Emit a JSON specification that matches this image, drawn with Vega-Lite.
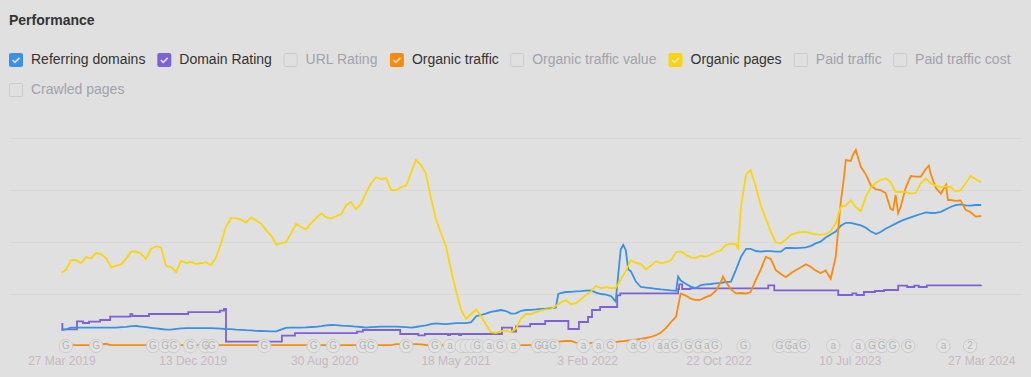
{
  "$schema": "https://vega.github.io/schema/vega-lite/v6.json",
  "width": 1013,
  "height": 208,
  "autosize": {"type": "none"},
  "padding": {"left": 9, "top": 138, "right": 9, "bottom": 31},
  "background": "#e0e0e0",
  "config": {
    "view": {"stroke": null},
    "font": "Arial",
    "legend": {
      "titleFontSize": 14,
      "titleFontWeight": "bold",
      "titleColor": "#333333",
      "titleFont": "Arial",
      "titlePadding": 25,
      "titleAnchor": "start",
      "labelFont": "Arial",
      "labelFontSize": 14,
      "labelOffset": 8,
      "labelLimit": 400,
      "symbolSize": 196,
      "symbolStrokeWidth": 0,
      "columnPadding": 11.3,
      "rowPadding": 16
    }
  },
  "datasets": {
    "main": [
      {"d":"2019-03-27","rd":8,"ot":0.4,"op":36.7},
      {"d":"2019-04-05","rd":8.3,"ot":0.4,"op":38},
      {"d":"2019-04-15","rd":9.2,"ot":0.4,"op":42.8},
      {"d":"2019-04-25","rd":9.2,"ot":0.4,"op":43},
      {"d":"2019-05-05","rd":9.2,"ot":0.4,"op":41.3},
      {"d":"2019-05-15","rd":9.2,"ot":0.4,"op":44.5},
      {"d":"2019-05-25","rd":9.2,"ot":0.4,"op":43.8},
      {"d":"2019-06-04","rd":9.2,"ot":0.5,"op":46.5},
      {"d":"2019-06-14","rd":9.2,"ot":1,"op":46},
      {"d":"2019-06-24","rd":9.2,"ot":1,"op":43.8},
      {"d":"2019-07-04","rd":9.2,"ot":0.4,"op":39.3},
      {"d":"2019-07-14","rd":9.2,"ot":0.4,"op":40.2},
      {"d":"2019-07-24","rd":9.4,"ot":0.4,"op":40.8},
      {"d":"2019-08-03","rd":9.6,"ot":0.4,"op":43.8},
      {"d":"2019-08-13","rd":9.9,"ot":0.4,"op":47.3},
      {"d":"2019-08-23","rd":10,"ot":0.4,"op":47.2},
      {"d":"2019-09-01","rd":9.7,"ot":0.4,"op":46.2},
      {"d":"2019-09-11","rd":9.4,"ot":0.4,"op":43.5},
      {"d":"2019-09-21","rd":9.1,"ot":0.4,"op":48.5},
      {"d":"2019-10-01","rd":8.8,"ot":0.4,"op":49.9},
      {"d":"2019-10-11","rd":8.5,"ot":0.4,"op":49.3},
      {"d":"2019-10-21","rd":8.2,"ot":0.4,"op":40},
      {"d":"2019-10-31","rd":8.2,"ot":0.4,"op":39.5},
      {"d":"2019-11-10","rd":8.6,"ot":0.4,"op":37},
      {"d":"2019-11-20","rd":8.8,"ot":0.4,"op":42.7},
      {"d":"2019-11-30","rd":8.9,"ot":0.4,"op":41.5},
      {"d":"2019-12-10","rd":8.9,"ot":0.4,"op":42},
      {"d":"2019-12-20","rd":8.9,"ot":0.4,"op":41},
      {"d":"2019-12-30","rd":8.9,"ot":0.4,"op":41.5},
      {"d":"2020-01-09","rd":8.9,"ot":0.4,"op":41.8},
      {"d":"2020-01-18","rd":8.9,"ot":0.4,"op":40.5},
      {"d":"2020-01-28","rd":8.8,"ot":0.4,"op":44.2},
      {"d":"2020-02-07","rd":8.7,"ot":0.4,"op":51.2},
      {"d":"2020-02-17","rd":8.5,"ot":0.4,"op":59.7},
      {"d":"2020-02-27","rd":8.4,"ot":0.4,"op":63.9},
      {"d":"2020-03-08","rd":8.2,"ot":0.4,"op":63.9},
      {"d":"2020-03-18","rd":8.1,"ot":0.4,"op":63.2},
      {"d":"2020-03-28","rd":7.9,"ot":0.4,"op":61.8},
      {"d":"2020-04-07","rd":7.8,"ot":0.4,"op":64.2},
      {"d":"2020-04-17","rd":7.6,"ot":0.4,"op":62.8},
      {"d":"2020-04-27","rd":7.5,"ot":0.4,"op":61.1},
      {"d":"2020-05-07","rd":7.4,"ot":0.4,"op":57.8},
      {"d":"2020-05-17","rd":7.3,"ot":0.4,"op":55.2},
      {"d":"2020-05-27","rd":7.3,"ot":0.4,"op":50.6},
      {"d":"2020-06-05","rd":8.2,"ot":0.4,"op":51.5},
      {"d":"2020-06-15","rd":9.1,"ot":0.4,"op":51.9},
      {"d":"2020-06-25","rd":9.2,"ot":0.4,"op":56.3},
      {"d":"2020-07-05","rd":9.2,"ot":0.4,"op":61},
      {"d":"2020-07-15","rd":9.2,"ot":0.4,"op":59.5},
      {"d":"2020-07-25","rd":9.3,"ot":0.4,"op":58.3},
      {"d":"2020-08-04","rd":9.5,"ot":0.4,"op":61.5},
      {"d":"2020-08-14","rd":9.6,"ot":0.4,"op":64},
      {"d":"2020-08-24","rd":9.9,"ot":0.4,"op":66.2},
      {"d":"2020-09-03","rd":10.3,"ot":0.4,"op":64.4},
      {"d":"2020-09-13","rd":10.5,"ot":0.4,"op":63.8},
      {"d":"2020-09-23","rd":10.4,"ot":0.4,"op":64.9},
      {"d":"2020-10-03","rd":10.2,"ot":0.4,"op":66},
      {"d":"2020-10-13","rd":10.1,"ot":0.4,"op":70.5},
      {"d":"2020-10-22","rd":9.9,"ot":0.4,"op":72},
      {"d":"2020-11-01","rd":9.7,"ot":0.4,"op":68.4},
      {"d":"2020-11-11","rd":9.5,"ot":0.4,"op":71},
      {"d":"2020-11-21","rd":9.2,"ot":0.4,"op":76.4},
      {"d":"2020-12-01","rd":9.4,"ot":0.4,"op":81.3},
      {"d":"2020-12-11","rd":9.6,"ot":0.4,"op":84.4},
      {"d":"2020-12-21","rd":9.7,"ot":0.4,"op":83.5},
      {"d":"2020-12-31","rd":9.7,"ot":0.4,"op":84},
      {"d":"2021-01-10","rd":9.7,"ot":0.4,"op":78},
      {"d":"2021-01-20","rd":9.7,"ot":0.9,"op":77.9},
      {"d":"2021-01-30","rd":9.6,"ot":0.9,"op":79.5},
      {"d":"2021-02-09","rd":9.4,"ot":0.9,"op":80.2},
      {"d":"2021-02-19","rd":9.2,"ot":0.9,"op":86.8},
      {"d":"2021-02-28","rd":9.5,"ot":0.9,"op":93},
      {"d":"2021-03-10","rd":9.9,"ot":0.8,"op":90.6},
      {"d":"2021-03-20","rd":10.3,"ot":0.5,"op":86.3},
      {"d":"2021-03-30","rd":10.9,"ot":0.4,"op":74},
      {"d":"2021-04-09","rd":11.3,"ot":0.4,"op":63.5},
      {"d":"2021-04-19","rd":11.1,"ot":0.4,"op":56.5},
      {"d":"2021-04-29","rd":10.9,"ot":0.4,"op":49.8},
      {"d":"2021-05-09","rd":11.2,"ot":0.4,"op":38},
      {"d":"2021-05-19","rd":11.4,"ot":0.4,"op":27.5},
      {"d":"2021-05-29","rd":11.4,"ot":0.4,"op":18},
      {"d":"2021-06-08","rd":11.4,"ot":0.4,"op":13.5},
      {"d":"2021-06-18","rd":11.9,"ot":0.4,"op":16},
      {"d":"2021-06-28","rd":14.9,"ot":0.4,"op":18.2},
      {"d":"2021-07-08","rd":15.5,"ot":0.4,"op":14.7},
      {"d":"2021-07-17","rd":16.2,"ot":0.4,"op":10.9},
      {"d":"2021-07-27","rd":17.1,"ot":0.4,"op":6.9},
      {"d":"2021-08-06","rd":17.5,"ot":0.4,"op":6.5},
      {"d":"2021-08-16","rd":18,"ot":0.4,"op":7.4},
      {"d":"2021-08-26","rd":17.5,"ot":0.4,"op":7.7},
      {"d":"2021-09-05","rd":16.2,"ot":0.4,"op":7},
      {"d":"2021-09-15","rd":16.3,"ot":0.4,"op":8.7},
      {"d":"2021-09-25","rd":17.6,"ot":0.4,"op":13.7},
      {"d":"2021-10-05","rd":18,"ot":0.4,"op":16},
      {"d":"2021-10-15","rd":18.1,"ot":0.5,"op":15.9},
      {"d":"2021-10-25","rd":18.3,"ot":0.8,"op":16.9},
      {"d":"2021-11-04","rd":18.6,"ot":0.9,"op":17.8},
      {"d":"2021-11-14","rd":18.7,"ot":1,"op":18.3},
      {"d":"2021-11-23","rd":18.9,"ot":1.5,"op":18.4},
      {"d":"2021-12-03","rd":19.2,"ot":2,"op":20},
      {"d":"2021-12-08","rd":26},
      {"d":"2021-12-13","rd":26.5,"ot":2.3,"op":21.8},
      {"d":"2021-12-23","rd":27,"ot":2.5,"op":23},
      {"d":"2022-01-02","rd":27.1,"ot":2.5,"op":20.9},
      {"d":"2022-01-12","rd":27.3,"ot":1.7,"op":21.4},
      {"d":"2022-01-22","rd":27.4,"ot":1.5,"op":23.4},
      {"d":"2022-02-01","rd":27.7,"ot":1.5,"op":25.5},
      {"d":"2022-02-11","rd":27.8,"ot":1.5,"op":27.3},
      {"d":"2022-02-21","rd":26.7,"ot":1.5,"op":30},
      {"d":"2022-03-03","rd":26,"ot":1.5,"op":28.9},
      {"d":"2022-03-13","rd":25.7,"ot":1.6,"op":29.4},
      {"d":"2022-03-23","rd":24.9,"ot":1.8,"op":29},
      {"d":"2022-04-01","rd":22.2,"ot":2,"op":29},
      {"d":"2022-04-06","rd":35.5},
      {"d":"2022-04-11","rd":48.3,"ot":2.3,"op":33.4},
      {"d":"2022-04-16","rd":50.5},
      {"d":"2022-04-21","rd":48,"ot":2.6,"op":37.3},
      {"d":"2022-04-26","rd":38.3},
      {"d":"2022-05-01","rd":37.4,"ot":2.9,"op":42.9},
      {"d":"2022-05-11","rd":32.2,"ot":3.2,"op":41.5},
      {"d":"2022-05-21","rd":29.5,"ot":3.5,"op":41.1},
      {"d":"2022-05-31","rd":29.2,"ot":4,"op":38.4},
      {"d":"2022-06-10","rd":28.9,"ot":4.5,"op":40.2},
      {"d":"2022-06-20","rd":28.6,"ot":5.4,"op":42.3},
      {"d":"2022-06-30","rd":28.3,"ot":6.7,"op":41.4},
      {"d":"2022-07-10","rd":28.1,"ot":9.1,"op":41.8},
      {"d":"2022-07-20","rd":27.8,"ot":12,"op":43},
      {"d":"2022-07-30","rd":27.6,"ot":14.7,"op":46.9},
      {"d":"2022-08-03","rd":34.7},
      {"d":"2022-08-08","rd":32.7,"ot":26.3,"op":47.3},
      {"d":"2022-08-18","rd":31.1,"ot":25.2,"op":45.7},
      {"d":"2022-08-28","rd":29.7,"ot":23.7,"op":44.3},
      {"d":"2022-09-07","rd":28.9,"ot":22.9,"op":44.1},
      {"d":"2022-09-17","rd":30.5,"ot":23.2,"op":45.1},
      {"d":"2022-09-27","rd":30.8,"ot":24.4,"op":44.7},
      {"d":"2022-10-07","rd":31,"ot":25.4,"op":45.6},
      {"d":"2022-10-17","rd":31.3,"ot":27.7,"op":47},
      {"d":"2022-10-27","rd":31.6,"ot":32,"op":47.9},
      {"d":"2022-10-31","ot":34.7},
      {"d":"2022-11-06","rd":32,"ot":32,"op":50.6},
      {"d":"2022-11-16","rd":32.2,"ot":28.3,"op":51.2},
      {"d":"2022-11-26","rd":38.2,"ot":26.3,"op":50.8},
      {"d":"2022-11-30","op":48.9},
      {"d":"2022-12-06","rd":44.7,"ot":26.5,"op":70},
      {"d":"2022-12-16","rd":48.6,"ot":26.2,"op":85.8},
      {"d":"2022-12-25","rd":48.6,"ot":27,"op":88},
      {"d":"2023-01-04","rd":47.5,"ot":32.9,"op":79.9},
      {"d":"2023-01-14","rd":47.2,"ot":38.2,"op":70.5},
      {"d":"2023-01-24","rd":47.4,"ot":44.5,"op":63.7},
      {"d":"2023-02-03","rd":47.4,"ot":43.5,"op":57.2},
      {"d":"2023-02-13","rd":47.2,"ot":37.9,"op":51.8},
      {"d":"2023-02-23","rd":47.2,"ot":36,"op":51.4},
      {"d":"2023-03-05","rd":49.1,"ot":34.4,"op":53.2},
      {"d":"2023-03-15","rd":49,"ot":36.4,"op":55.6},
      {"d":"2023-03-25","rd":48.9,"ot":38,"op":56.4},
      {"d":"2023-04-04","rd":49.1,"ot":39.4,"op":56.9},
      {"d":"2023-04-14","rd":49.3,"ot":40.9,"op":57},
      {"d":"2023-04-24","rd":50.1,"ot":39.5,"op":56.3},
      {"d":"2023-05-03","rd":51.3,"ot":37.8,"op":55.8},
      {"d":"2023-05-13","rd":52.2,"ot":36.5,"op":55.6},
      {"d":"2023-05-23","rd":54.2,"ot":37.8,"op":55.9},
      {"d":"2023-06-02","rd":55.8,"ot":33.6,"op":57.4},
      {"d":"2023-06-12","rd":57.2,"ot":44.5,"op":61.3},
      {"d":"2023-06-22","rd":60.1,"ot":72,"op":69.5},
      {"d":"2023-06-29","ot":85.5},
      {"d":"2023-07-02","rd":61.6,"ot":93,"op":70.2},
      {"d":"2023-07-12","rd":61.6,"ot":92.5,"op":72.8},
      {"d":"2023-07-16","ot":95.5},
      {"d":"2023-07-22","rd":60.9,"ot":98,"op":69.5},
      {"d":"2023-08-01","rd":60.3,"ot":89.5,"op":67.4},
      {"d":"2023-08-11","rd":59.1,"ot":85.7,"op":74.7},
      {"d":"2023-08-21","rd":57.2,"ot":80.2,"op":79.4},
      {"d":"2023-08-31","rd":56,"ot":78.3,"op":81.6},
      {"d":"2023-09-09","rd":57,"ot":77.9,"op":83},
      {"d":"2023-09-19","rd":58.6,"ot":76.5,"op":83.9},
      {"d":"2023-09-29","rd":59.9,"ot":68.6,"op":81.9},
      {"d":"2023-10-04","ot":68},
      {"d":"2023-10-09","rd":61.2,"ot":75.5,"op":77},
      {"d":"2023-10-14","ot":66.4},
      {"d":"2023-10-19","rd":62.4,"ot":69.6,"op":77},
      {"d":"2023-10-29","rd":63.4,"ot":79.1,"op":77},
      {"d":"2023-11-08","rd":64.3,"ot":85,"op":76.2},
      {"d":"2023-11-18","rd":65.2,"ot":84.7,"op":76.6},
      {"d":"2023-11-28","rd":66,"ot":84.7,"op":81.3},
      {"d":"2023-12-08","rd":66.8,"ot":88.5,"op":83.8},
      {"d":"2023-12-14","ot":90.2},
      {"d":"2023-12-18","rd":66.5,"ot":85.7,"op":81.3},
      {"d":"2023-12-28","rd":66.6,"ot":79,"op":80.2},
      {"d":"2024-01-07","rd":67.1,"ot":76.2,"op":79.3},
      {"d":"2024-01-17","rd":68.4,"ot":80.6,"op":79.8},
      {"d":"2024-01-21","ot":73},
      {"d":"2024-01-26","rd":69.5,"ot":73,"op":79.4},
      {"d":"2024-02-05","rd":70.4,"ot":72.6,"op":77.3},
      {"d":"2024-02-15","rd":70.8,"ot":72.8,"op":77.8},
      {"d":"2024-02-25","rd":70.3,"ot":68.1,"op":81.4},
      {"d":"2024-03-06","rd":70.2,"ot":66.9,"op":85},
      {"d":"2024-03-16","rd":70.5,"ot":64.7,"op":83.4},
      {"d":"2024-03-27","rd":70.5,"ot":65,"op":81.9}
    ],
    "dr": [
      {"d":"2019-03-27","v":11},
      {"d":"2019-03-29","v":8.3},
      {"d":"2019-04-27","v":12.3},
      {"d":"2019-05-09","v":11.5},
      {"d":"2019-05-21","v":12.2},
      {"d":"2019-06-12","v":13},
      {"d":"2019-07-02","v":14.7},
      {"d":"2019-08-11","v":15.9},
      {"d":"2019-08-15","v":15},
      {"d":"2019-09-17","v":16},
      {"d":"2019-12-04","v":16.9},
      {"d":"2020-02-05","v":17.7},
      {"d":"2020-02-13","v":18.5},
      {"d":"2020-02-17","v":2.2},
      {"d":"2020-06-07","v":5.2},
      {"d":"2020-07-03","v":6.4},
      {"d":"2020-11-03","v":7.2},
      {"d":"2020-11-15","v":8},
      {"d":"2021-01-28","v":6},
      {"d":"2021-03-05","v":5.3},
      {"d":"2021-03-18","v":6},
      {"d":"2021-05-03","v":5.5},
      {"d":"2021-05-07","v":6},
      {"d":"2021-05-25","v":5.5},
      {"d":"2021-05-29","v":6},
      {"d":"2021-08-18","v":9.2},
      {"d":"2021-09-07","v":7.2},
      {"d":"2021-09-15","v":9.8},
      {"d":"2021-10-13","v":11},
      {"d":"2021-11-12","v":12.5},
      {"d":"2021-12-28","v":8.5},
      {"d":"2022-01-18","v":12},
      {"d":"2022-02-05","v":14.5},
      {"d":"2022-02-13","v":18},
      {"d":"2022-03-01","v":19.5},
      {"d":"2022-04-04","v":25.3},
      {"d":"2022-04-10","v":26.3},
      {"d":"2022-08-03","v":28.5},
      {"d":"2022-08-05","v":30.8},
      {"d":"2022-08-11","v":28.5},
      {"d":"2022-08-27","v":28.8},
      {"d":"2023-01-29","v":30.3},
      {"d":"2023-02-10","v":27.8},
      {"d":"2023-06-17","v":25.5},
      {"d":"2023-07-15","v":26.3},
      {"d":"2023-07-23","v":25.5},
      {"d":"2023-08-07","v":27},
      {"d":"2023-08-29","v":27.5},
      {"d":"2023-09-16","v":28},
      {"d":"2023-10-14","v":30.2},
      {"d":"2023-11-01","v":29.5},
      {"d":"2023-11-15","v":30.2},
      {"d":"2023-11-24","v":29.5},
      {"d":"2023-12-10","v":30.3},
      {"d":"2024-03-27","v":30.4}
    ],
    "upd": [
      {"d":"2019-04-05","t":"G"},{"d":"2019-06-04","t":"G"},{"d":"2019-09-25","t":"G"},
      {"d":"2019-10-19","t":"G"},{"d":"2019-11-05","t":"G"},{"d":"2019-12-08","t":"G"},
      {"d":"2020-01-07","t":"G"},{"d":"2020-01-20","t":"G"},{"d":"2020-05-03","t":"G"},
      {"d":"2020-08-09","t":"G"},{"d":"2020-09-17","t":"G"},{"d":"2020-11-15","t":"G"},
      {"d":"2020-12-01","t":"G"},{"d":"2021-02-09","t":"G"},{"d":"2021-04-07","t":"G"},
      {"d":"2021-05-07","t":"a"},{"d":"2021-05-30","t":""},{"d":"2021-06-09","t":""},
      {"d":"2021-06-19","t":""},{"d":"2021-06-30","t":"G"},{"d":"2021-07-24","t":"a"},
      {"d":"2021-08-14","t":"G"},{"d":"2021-09-10","t":"a"},{"d":"2021-10-29","t":"G"},
      {"d":"2021-11-12","t":"G"},{"d":"2021-11-28","t":"G"},{"d":"2022-01-27","t":"a"},
      {"d":"2022-02-26","t":"a"},{"d":"2022-03-21","t":"G"},{"d":"2022-05-06","t":"a"},
      {"d":"2022-05-25","t":"G"},{"d":"2022-06-28","t":"a"},{"d":"2022-07-11","t":"a"},
      {"d":"2022-07-27","t":"G"},{"d":"2022-08-23","t":"G"},{"d":"2022-09-12","t":"G"},
      {"d":"2022-09-29","t":"a"},{"d":"2022-10-15","t":"G"},{"d":"2022-12-11","t":"G"},
      {"d":"2023-02-20","t":"G"},{"d":"2023-03-10","t":"G"},{"d":"2023-03-23","t":"a"},
      {"d":"2023-04-08","t":"G"},{"d":"2023-06-07","t":"a"},{"d":"2023-07-27","t":"a"},
      {"d":"2023-08-23","t":"G"},{"d":"2023-09-11","t":"G"},{"d":"2023-10-03","t":"G"},
      {"d":"2023-11-03","t":"G"},{"d":"2024-01-12","t":"a"},{"d":"2024-03-05","t":"2"}
    ]
  },
  "layer": [
    {
      "data": {"values": []},
      "mark": {"type": "point", "filled": true, "opacity": 1, "size": 196},
      "encoding": {
        "x": {
          "field": "d",
          "type": "temporal",
          "scale": {
            "type": "utc",
            "domain": [
              {"year": 2018, "month": 12, "date": 13, "utc": true},
              {"year": 2024, "month": 6, "date": 16, "utc": true}
            ]
          },
          "axis": {
            "title": null,
            "values": [
              {"year": 2019, "month": 3, "date": 27, "utc": true},
              {"year": 2019, "month": 12, "date": 13, "utc": true},
              {"year": 2020, "month": 8, "date": 30, "utc": true},
              {"year": 2021, "month": 5, "date": 18, "utc": true},
              {"year": 2022, "month": 2, "date": 3, "utc": true},
              {"year": 2022, "month": 10, "date": 22, "utc": true},
              {"year": 2023, "month": 7, "date": 10, "utc": true},
              {"year": 2024, "month": 3, "date": 27, "utc": true}
            ],
            "format": "%-d %b %Y",
            "domain": false,
            "ticks": false,
            "grid": false,
            "labelColor": "#c5b9c1",
            "labelFont": "Arial",
            "labelFontSize": 12,
            "labelPadding": 9.5,
            "labelOverlap": false,
            "labelFlush": false,
            "labelBound": false
          }
        },
        "y": {
          "field": "v",
          "type": "quantitative",
          "scale": {"domain": [0, 104], "nice": false, "zero": true},
          "axis": {
            "title": null,
            "values": [26, 52, 78, 104],
            "grid": true,
            "gridColor": "#d8d8d8",
            "gridWidth": 1,
            "domain": false,
            "ticks": false,
            "labels": false
          }
        },
        "color": {
          "field": "s",
          "type": "nominal",
          "scale": {
            "domain": ["Referring domains", "Domain Rating", "URL Rating", "Organic traffic", "Organic traffic value", "Organic pages", "Paid traffic", "Paid traffic cost", "Crawled pages"],
            "range": ["#3a91e4", "#7c62d4", "#cbcbcb", "#fb8b0b", "#cbcbcb", "#fbd50c", "#cbcbcb", "#cbcbcb", "#cbcbcb"]
          },
          "legend": {
            "orient": "none",
            "legendX": 0,
            "legendY": -124,
            "direction": "horizontal",
            "columns": 8,
            "title": "Performance",
            "labelColor": {"expr": "indexof(['Referring domains','Domain Rating','Organic traffic','Organic pages'], datum.value) >= 0 ? '#333333' : '#a2a2aa'"}
          }
        },
        "shape": {
          "field": "s",
          "type": "nominal",
          "scale": {
            "domain": ["Referring domains", "Domain Rating", "URL Rating", "Organic traffic", "Organic traffic value", "Organic pages", "Paid traffic", "Paid traffic cost", "Crawled pages"],
            "range": [
              "M-1,-0.7Q-1,-1,-0.7,-1L0.7,-1Q1,-1,1,-0.7L1,0.7Q1,1,0.7,1L-0.7,1Q-1,1,-1,0.7ZM-0.58,0.08L-0.15,0.51L0.58,-0.22L0.42,-0.38L-0.15,0.19L-0.42,-0.08Z",
              "M-1,-0.7Q-1,-1,-0.7,-1L0.7,-1Q1,-1,1,-0.7L1,0.7Q1,1,0.7,1L-0.7,1Q-1,1,-1,0.7ZM-0.58,0.08L-0.15,0.51L0.58,-0.22L0.42,-0.38L-0.15,0.19L-0.42,-0.08Z",
              "M-1,-0.7Q-1,-1,-0.7,-1L0.7,-1Q1,-1,1,-0.7L1,0.7Q1,1,0.7,1L-0.7,1Q-1,1,-1,0.7ZM-0.86,-0.86L-0.86,0.86L0.86,0.86L0.86,-0.86Z",
              "M-1,-0.7Q-1,-1,-0.7,-1L0.7,-1Q1,-1,1,-0.7L1,0.7Q1,1,0.7,1L-0.7,1Q-1,1,-1,0.7ZM-0.58,0.08L-0.15,0.51L0.58,-0.22L0.42,-0.38L-0.15,0.19L-0.42,-0.08Z",
              "M-1,-0.7Q-1,-1,-0.7,-1L0.7,-1Q1,-1,1,-0.7L1,0.7Q1,1,0.7,1L-0.7,1Q-1,1,-1,0.7ZM-0.86,-0.86L-0.86,0.86L0.86,0.86L0.86,-0.86Z",
              "M-1,-0.7Q-1,-1,-0.7,-1L0.7,-1Q1,-1,1,-0.7L1,0.7Q1,1,0.7,1L-0.7,1Q-1,1,-1,0.7ZM-0.58,0.08L-0.15,0.51L0.58,-0.22L0.42,-0.38L-0.15,0.19L-0.42,-0.08Z",
              "M-1,-0.7Q-1,-1,-0.7,-1L0.7,-1Q1,-1,1,-0.7L1,0.7Q1,1,0.7,1L-0.7,1Q-1,1,-1,0.7ZM-0.86,-0.86L-0.86,0.86L0.86,0.86L0.86,-0.86Z",
              "M-1,-0.7Q-1,-1,-0.7,-1L0.7,-1Q1,-1,1,-0.7L1,0.7Q1,1,0.7,1L-0.7,1Q-1,1,-1,0.7ZM-0.86,-0.86L-0.86,0.86L0.86,0.86L0.86,-0.86Z",
              "M-1,-0.7Q-1,-1,-0.7,-1L0.7,-1Q1,-1,1,-0.7L1,0.7Q1,1,0.7,1L-0.7,1Q-1,1,-1,0.7ZM-0.86,-0.86L-0.86,0.86L0.86,0.86L0.86,-0.86Z"
            ]
          },
          "legend": {
            "orient": "none",
            "legendX": 0,
            "legendY": -124,
            "direction": "horizontal",
            "columns": 8,
            "title": "Performance",
            "labelColor": {"expr": "indexof(['Referring domains','Domain Rating','Organic traffic','Organic pages'], datum.value) >= 0 ? '#333333' : '#a2a2aa'"}
          }
        }
      }
    },
    {
      "data": {"name": "dr"},
      "mark": {"type": "line", "interpolate": "step-after", "color": "#7c62d4", "strokeWidth": 1.8},
      "encoding": {
        "x": {"field": "d", "type": "temporal"},
        "y": {"field": "v", "type": "quantitative"}
      }
    },
    {
      "data": {"name": "main"},
      "transform": [
        {"fold": ["rd", "ot", "op"], "as": ["s", "v"]},
        {"filter": "isValid(datum.v)"}
      ],
      "mark": {"type": "line", "strokeWidth": 1.8},
      "encoding": {
        "x": {"field": "d", "type": "temporal"},
        "y": {"field": "v", "type": "quantitative"},
        "stroke": {
          "field": "s",
          "type": "nominal",
          "scale": {"domain": ["rd", "ot", "op"], "range": ["#3a91e4", "#fb8b0b", "#fbd50c"]},
          "legend": null
        }
      }
    },
    {
      "data": {"name": "upd"},
      "mark": {"type": "circle", "size": 180, "fill": "#e3e3e3", "stroke": "#cbcbcb", "strokeWidth": 1, "opacity": 1},
      "encoding": {
        "x": {"field": "d", "type": "temporal"},
        "y": {"datum": 0}
      }
    },
    {
      "data": {"name": "upd"},
      "transform": [{"filter": "datum.t != ''"}],
      "mark": {"type": "text", "fontSize": 10, "font": "Arial", "color": "#b3b3b3", "baseline": "middle", "align": "center"},
      "encoding": {
        "x": {"field": "d", "type": "temporal"},
        "y": {"datum": 0},
        "text": {"field": "t"}
      }
    }
  ]
}
